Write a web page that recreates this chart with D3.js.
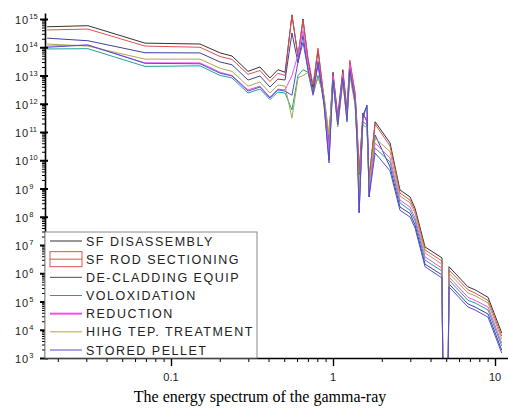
<!DOCTYPE html>
<html lang="en">
<head>
<meta charset="utf-8">
<title>Gamma-ray energy spectrum</title>
<script src="https://d3js.org/d3.v7.min.js"></script>
<style>
  body { margin: 0; background: #ffffff; }
  svg { display: block; }
  .tick-label { font-family: "Liberation Sans", Arial, sans-serif; font-size: 11px; fill: #222; }
  .legend-label { font-family: "Liberation Sans", Arial, sans-serif; font-size: 12.5px; fill: #222; letter-spacing: 1.5px; }
  .caption { font-family: "Liberation Serif", "Times New Roman", serif; font-size: 16px; fill: #000; }
  .series { fill: none; stroke-width: 1; }
</style>
</head>
<body>
<svg id="chart" width="508" height="410"></svg>
<script>

// energy grid (MeV) shared by every curve
const energy = [0.0172, 0.0307, 0.0691, 0.151, 0.201, 0.238, 0.299, 0.354, 0.408, 0.457,
  0.506, 0.558, 0.608, 0.653, 0.701, 0.753, 0.808, 0.880, 0.945, 1.00,
  1.07, 1.15, 1.22, 1.27, 1.37, 1.41, 1.45, 1.53, 1.62, 1.67,
  1.82, 2.25, 2.59, 2.99, 3.21, 3.70, 4.71, 4.77, 5.13, 5.20,
  6.81, 7.53, 9.06, 11.0];

const sfDisassembly = [5.3e14, 5.8e14, 1.4e14, 1.3e14, 6.3e13, 4.9e13, 1.4e13, 2.0e13, 8.2e12, 1.6e13,
  1.3e13, 1.4e15, 4.5e13, 1.0e15, 3.5e13, 3.6e12, 8.0e13, 1.4e12, 5.2e10, 1.3e13,
  3.1e11, 1.6e13, 5.1e11, 3.0e13, 2.0e12, 1.2e11, 3.0e9, 4.7e11, 2.3e11, 2.0e9,
  2.3e11, 4.1e10, 8.9e8, 5.0e8, 2.0e8, 8.5e6, 3.5e6, 1e2, 1e2, 1.7e6,
  3.3e5, 2.6e5, 1.4e5, 7.7e3];

const sfRodSectioning = [4.1e14, 4.4e14, 1.1e14, 1.0e14, 4.7e13, 3.7e13, 1.1e13, 1.5e13, 6.1e12, 1.2e13,
  1.0e13, 1.4e15, 5.3e13, 9.2e14, 4.2e13, 4.6e12, 9.4e13, 1.6e12, 6.1e10, 1.1e13,
  4.0e11, 1.3e13, 7.1e11, 3.5e13, 2.4e12, 1.4e11, 3.8e9, 4.0e11, 2.7e11, 2.4e9,
  1.9e11, 3.2e10, 6.9e8, 3.9e8, 1.6e8, 6.7e6, 2.7e6, 1e2, 1e2, 1.3e6,
  2.6e5, 2.0e5, 1.1e5, 6.0e3];

const deCladding = [2.1e14, 1.7e14, 6.4e13, 6.3e13, 3.0e13, 2.4e13, 6.9e12, 9.6e12, 3.9e12, 7.5e12,
  6.9e12, 3.2e14, 2.8e13, 2.7e14, 1.6e13, 2.6e12, 2.4e13, 9.0e11, 1.0e10, 8.2e12,
  2.7e11, 1.0e13, 4.0e11, 1.8e13, 1.4e12, 5.2e10, 1.4e8, 3.1e11, 9.0e11, 5.0e8,
  7.8e10, 5.8e9, 2.2e8, 1.3e8, 5.1e7, 2.1e6, 8.7e5, 1e2, 1e2, 4.2e5,
  8.2e4, 6.4e4, 3.6e4, 1.9e3];

const voloxidation = [8.7e13, 8.9e13, 2.1e13, 2.2e13, 1.0e13, 8.2e12, 2.4e12, 3.3e12, 1.4e12, 2.6e12,
  2.4e12, 6.0e11, 1.0e13, 1.6e13, 1.3e13, 2.0e12, 1.0e13, 1.7e12, 2.7e10, 5.9e12,
  1.8e11, 6.9e12, 2.7e11, 1.3e13, 9.8e11, 4.4e10, 5.9e8, 2.3e11, 1.8e11, 1.0e9,
  2.7e10, 8.7e9, 3.1e8, 1.7e8, 7.1e7, 2.9e6, 1.2e6, 1e2, 1e2, 5.8e5,
  1.1e5, 8.9e4, 5.0e4, 2.7e3];

const reduction = [1.1e14, 1.2e14, 2.8e13, 2.8e13, 1.3e13, 1.0e13, 3.1e12, 4.2e12, 1.7e12, 3.3e12,
  3.1e12, 1.0e13, 5.3e13, 4.1e14, 2.4e13, 2.0e12, 3.5e13, 1.4e12, 2.3e10, 9.6e12,
  2.3e11, 1.1e13, 3.1e11, 2.4e13, 1.6e12, 6.1e10, 3.9e8, 3.4e11, 3.1e11, 8.9e8,
  4.1e10, 1.2e10, 3.9e8, 2.2e8, 9.0e7, 3.8e6, 1.5e6, 1e2, 1e2, 7.4e5,
  1.4e5, 1.1e5, 6.4e4, 3.4e3];

const highTempTreatment = [1.3e14, 1.1e14, 3.8e13, 3.8e13, 1.8e13, 1.4e13, 4.2e12, 5.9e12, 2.4e12, 4.6e12,
  4.2e12, 3.1e11, 8.2e12, 1.0e13, 1.3e13, 2.6e12, 8.2e12, 2.0e12, 7.8e10, 6.9e12,
  1.5e11, 5.9e12, 2.7e11, 1.0e13, 9.0e11, 3.5e10, 8.9e8, 1.8e11, 1.4e11, 1.3e9,
  6.1e10, 2.0e10, 5.4e8, 3.1e8, 1.3e8, 5.2e6, 2.1e6, 1e2, 1e2, 1.0e6,
  2.0e5, 1.6e5, 8.9e4, 4.7e3];

const storedPellet = [1.0e14, 1.2e14, 2.7e13, 2.6e13, 1.2e13, 9.6e12, 2.8e12, 3.9e12, 1.6e12, 3.1e12,
  2.8e12, 2.0e12, 3.0e13, 1.5e14, 1.6e13, 2.2e12, 3.0e13, 1.1e12, 8.0e9, 6.9e12,
  1.8e11, 8.2e12, 2.3e11, 1.6e13, 1.2e12, 3.5e10, 1.4e8, 4.0e11, 8.3e11, 5.0e8,
  1.8e10, 4.2e9, 1.7e8, 9.8e7, 4.0e7, 1.7e6, 6.8e5, 1e2, 1e2, 3.3e5,
  6.4e4, 5.0e4, 2.8e4, 1.5e3];

const seriesNames = ["SF DISASSEMBLY", "SF ROD SECTIONING", "DE-CLADDING EQUIP", "VOLOXIDATION",
  "REDUCTION", "HIHG TEP. TREATMENT", "STORED PELLET"];
const seriesValues = [sfDisassembly, sfRodSectioning, deCladding, voloxidation,
  reduction, highTempTreatment, storedPellet];

const yTickValues = [1e3, 1e4, 1e5, 1e6, 1e7, 1e8, 1e9, 1e10, 1e11, 1e12, 1e13, 1e14, 1e15];
const yTickExponents = ["3", "4", "5", "6", "7", "8", "9", "10", "11", "12", "13", "14", "15"];
const xTickValues = [0.1, 1, 10];
const xTickLabels = ["0.1", "1", "10"];

// styles
const colors = ["#333333", "#e25050", "#40409e", "#22a0a0", "#f050f0", "#a8a850", "#5050d0"];

// layout
const plot = { left: 45, right: 508, top: 13, bottom: 358 };

const svg = d3.select('#chart');

// scales: 0.1 -> 171px, 10 -> 495px ; 1e15 -> 19px, 1e3 -> 358px
const x = d3.scaleLog().domain([0.1, 10]).range([171, 495]);
x.domain([x.invert(plot.left), x.invert(plot.right)]).range([plot.left, plot.right]);
const y = d3.scaleLog().domain([1e3, 1e15]).range([plot.bottom, 19]);
y.domain([1e3, y.invert(plot.top)]).range([plot.bottom, plot.top]);

svg.append('clipPath').attr('id', 'clip')
  .append('rect')
  .attr('x', plot.left).attr('y', 0)
  .attr('width', plot.right - plot.left).attr('height', plot.bottom);

// curves
const line = d3.line()
  .x((d, i) => x(energy[i]))
  .y(d => y(d));

svg.append('g')
  .attr('clip-path', 'url(#clip)')
  .selectAll('path')
  .data(seriesValues)
  .join('path')
  .attr('class', 'series')
  .attr('stroke', (d, i) => colors[i])
  .attr('d', line);

// minor ticks
const yMinor = [];
yTickValues.slice(0, -1).forEach(v => { for (let k = 2; k < 10; k++) yMinor.push(v * k); });
const xMinor = [];
[0.01, 0.1, 1, 10].forEach(v => { for (let k = 2; k < 10; k++) { const t = v * k; if (t >= x.domain()[0] && t <= x.domain()[1] && !xTickValues.includes(t)) xMinor.push(t); } });

const axisG = svg.append('g');

// y axis
axisG.append('g')
  .attr('transform', 'translate(' + plot.left + ',0)')
  .call(d3.axisLeft(y).tickValues(yMinor).tickSize(3).tickFormat(''))
  .call(g => g.select('.domain').remove());
axisG.append('g')
  .attr('transform', 'translate(' + plot.left + ',0)')
  .call(d3.axisLeft(y).tickValues(yTickValues).tickSizeInner(6).tickSizeOuter(0).tickFormat(''))
  .call(g => g.selectAll('.tick line').attr('x2', -5).attr('x1', 3).attr('stroke-width', 2))
  .call(g => g.select('.domain').attr('stroke-width', 1.6));

// x axis
axisG.append('g')
  .attr('transform', 'translate(0,' + plot.bottom + ')')
  .call(d3.axisBottom(x).tickValues(xMinor).tickSize(4).tickFormat(''))
  .call(g => g.select('.domain').remove());
axisG.append('g')
  .attr('transform', 'translate(0,' + plot.bottom + ')')
  .call(d3.axisBottom(x).tickValues(xTickValues).tickSizeInner(8).tickSizeOuter(0).tickFormat(''))
  .call(g => g.selectAll('.tick line').attr('stroke-width', 1.4))
  .call(g => g.select('.domain').attr('stroke-width', 1.6));

// y tick labels: 10^n
const yLab = svg.append('g').selectAll('text')
  .data(yTickValues)
  .join('text')
  .attr('class', 'tick-label')
  .attr('x', 15)
  .attr('y', d => y(d) + 5);
yLab.append('tspan').attr('letter-spacing', '1px').text('10');
yLab.append('tspan').attr('dy', -5).attr('font-size', '7.5px').text((d, i) => yTickExponents[i]);

// x tick labels
svg.append('g').selectAll('text')
  .data(xTickValues)
  .join('text')
  .attr('class', 'tick-label')
  .attr('text-anchor', 'middle')
  .attr('x', d => x(d))
  .attr('y', 381)
  .text((d, i) => xTickLabels[i]);

// legend
const legend = svg.append('g');
legend.append('rect')
  .attr('x', plot.left).attr('y', 232)
  .attr('width', 257 - plot.left).attr('height', plot.bottom - 232)
  .attr('fill', '#fff').attr('stroke', '#888').attr('stroke-width', 1);

const rowY = d3.scaleLinear().domain([0, 6]).range([241, 350]);
const item = legend.selectAll('g.item')
  .data(seriesNames)
  .join('g')
  .attr('class', 'item')
  .attr('transform', (d, i) => 'translate(0,' + rowY(i) + ')');

item.filter((d, i) => i === 1)
  .append('rect')
  .attr('x', 50).attr('y', -7.5).attr('width', 32).attr('height', 15)
  .attr('fill', 'none').attr('stroke', colors[1]);

item.append('line')
  .attr('x1', 50).attr('x2', 82)
  .attr('stroke', (d, i) => colors[i])
  .attr('stroke-width', (d, i) => i === 4 ? 2 : 1);

item.append('text')
  .attr('class', 'legend-label')
  .attr('x', 86)
  .attr('y', 4.5)
  .text(d => d);

// caption
svg.append('text')
  .attr('class', 'caption')
  .attr('text-anchor', 'middle')
  .attr('x', 260)
  .attr('y', 402)
  .text('The energy spectrum of the gamma-ray');

</script>
</body>
</html>
